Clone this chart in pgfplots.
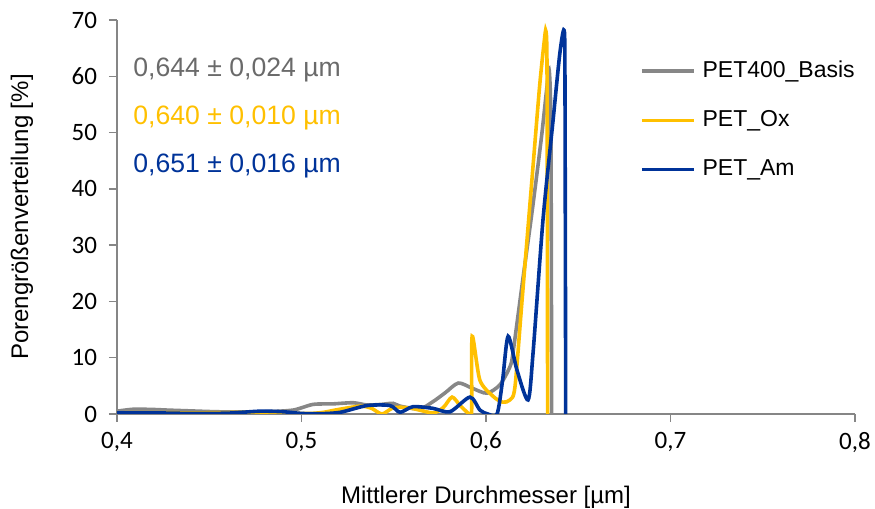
\documentclass[border=0pt]{standalone}
\usepackage{fontspec}
\setmainfont{Liberation Sans}
\newfontfamily\carlito{Carlito}
\usepackage{pgfplots}
\pgfplotsset{compat=1.18}
\definecolor{cgray}{HTML}{878787}
\definecolor{cyel}{HTML}{FFC000}
\definecolor{cblue}{HTML}{003399}
\definecolor{tgray}{HTML}{6A6A6A}
\definecolor{axgray}{HTML}{868686}
\begin{document}
\begin{tikzpicture}
\path[use as bounding box] (-58.5pt,-47.5pt) rectangle (379pt,207pt);
\begin{axis}[
  scale only axis,
  width=369pt, height=197pt,
  xmin=0.4, xmax=0.8, ymin=0, ymax=70,
  xtick={0.4,0.5,0.6,0.7,0.8},
  ytick={0,10,20,30,40,50,60,70},
  axis lines=left,
  axis line style={-, axgray, line width=0.75pt},
  tick style={axgray, line width=0.75pt},
  major tick length=4pt,
  tick align=outside,
  /pgf/number format/.cd, fixed, precision=1, use comma, assume math mode=true,
  /pgfplots/.cd,
  ticklabel style={font=\fontsize{12.5}{14}\selectfont\carlito, text=black},
  yticklabel style={xshift=-2.5pt},
  xticklabel style={yshift=-1.5pt},
  xlabel={Mittlerer Durchmesser [µm]},
  ylabel={Porengrößenverteilung [\%]},
  label style={font=\fontsize{12}{14}\selectfont},
  xlabel style={at={(rel axis cs:0.5,0)}, anchor=center, yshift=-41.5pt},
  ylabel style={at={(rel axis cs:0,0.5)}, anchor=center, rotate=0, yshift=47.5pt},
  clip=true,
  legend cell align=left,
  legend style={draw=none, fill=none, inner sep=0pt, outer sep=0pt,
    at={(rel axis cs:0.7087,0.898)}, anchor=north west,
    font=\fontsize{11.5}{13}\selectfont,
    nodes={text height=8.5pt, text depth=2.5pt, inner sep=0pt},
    row sep=13.6pt, column sep=3.5pt},
  legend image code/.code={\draw[#1, line width=1.8pt] (0pt,0pt) -- (26pt,0pt);},
  every axis plot/.append style={line width=1.8pt, smooth, tension=0.45},
]
\addplot[cgray] coordinates {
(0.400,0.5)(0.409,0.85)(0.42,0.8)(0.427,0.7)(0.44,0.55)(0.454,0.4)(0.468,0.35)(0.481,0.4)(0.4955,0.7)(0.5062,1.7)(0.517,1.8)(0.528,2.0)(0.5355,1.6)(0.543,1.7)(0.5496,1.9)(0.5534,1.4)(0.564,0.9)(0.5713,2.2)(0.578,3.8)(0.585,5.5)(0.5924,4.6)(0.6005,3.7)(0.6076,5.2)(0.613,8.4)(0.6146,10.8)(0.62,24)(0.625,36)(0.63,49)(0.633,58)(0.6343,61)(0.6352,50)(0.6356,0)
};
\addlegendentry{PET400\_Basis}
\addplot[cyel] coordinates {
(0.400,0.2)(0.42,0.25)(0.44,0.2)(0.46,0.25)(0.48,0.35)(0.495,0.1)(0.505,0.1)(0.512,0.3)(0.52,0.8)(0.532,1.4)(0.538,1.0)(0.5436,0.0)(0.549,1.0)(0.5534,1.2)(0.56,1.0)(0.5713,0.2)(0.577,1.2)(0.5816,3.0)(0.586,1.5)(0.5905,0.1)(0.5922,0)(0.5925,13.8)(0.5967,6)(0.604,3.1)(0.609,2.1)(0.613,2.5)(0.6157,4.8)(0.6195,20)(0.6245,40)(0.629,58)(0.6315,66)(0.6325,68)(0.6331,60)(0.6334,0)
};
\addlegendentry{PET\_Ox}
\addplot[cblue] coordinates {
(0.400,0.2)(0.42,0.2)(0.44,0.1)(0.46,0.15)(0.4775,0.5)(0.49,0.4)(0.5,0.1)(0.51,0.05)(0.521,0.3)(0.5355,1.5)(0.548,1.5)(0.5534,0.3)(0.5604,1.3)(0.5713,1.0)(0.5805,0.4)(0.5913,3.0)(0.5967,0.7)(0.601,0)(0.606,0)(0.609,6)(0.612,13.8)(0.6168,7.8)(0.6228,2.5)(0.6255,10.8)(0.6309,34.5)(0.6363,52)(0.64,64)(0.6423,68.2)(0.6428,60)(0.6432,0)
};
\addlegendentry{PET\_Am}
\node[anchor=west, text=tgray, font=\fontsize{13.3}{15}\selectfont, inner sep=0pt, yshift=-1pt] at (rel axis cs:0.0217,0.878) {0,644 ± 0,024 µm};
\node[anchor=west, text=cyel, font=\fontsize{13.3}{15}\selectfont, inner sep=0pt, yshift=-1pt] at (rel axis cs:0.0217,0.756) {0,640 ± 0,010 µm};
\node[anchor=west, text=cblue, font=\fontsize{13.3}{15}\selectfont, inner sep=0pt, yshift=-1pt] at (rel axis cs:0.0217,0.634) {0,651 ± 0,016 µm};
\end{axis}
\end{tikzpicture}
\end{document}
